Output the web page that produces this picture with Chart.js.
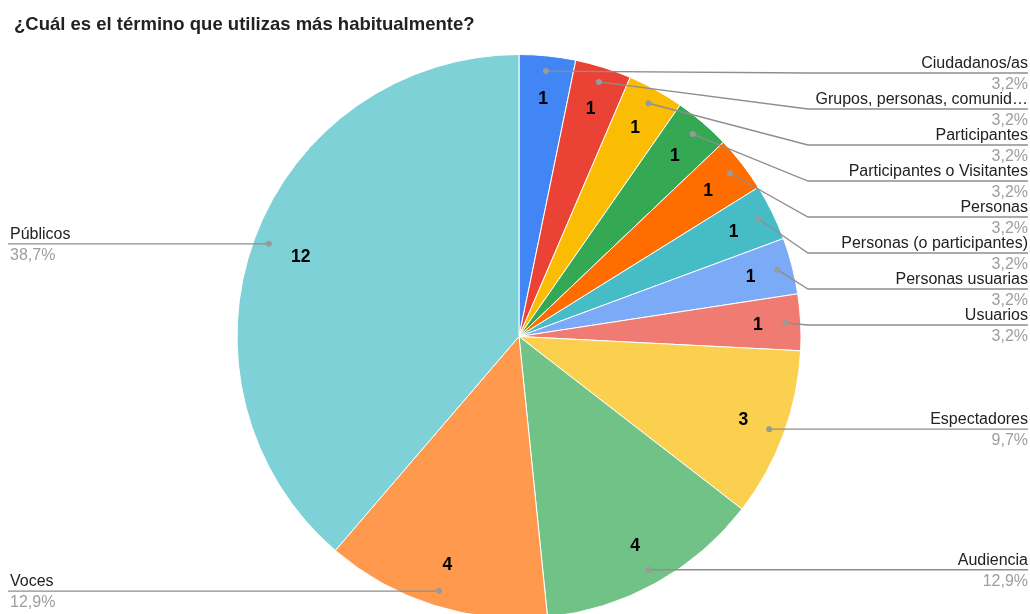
<!DOCTYPE html>
<html>
<head>
<meta charset="utf-8">
<script src="https://cdn.jsdelivr.net/npm/chart.js@4/dist/chart.umd.min.js"></script>
<style>
  html, body { margin: 0; padding: 0; background: #fff; overflow: hidden; }
  #wrap { position: relative; width: 1030px; height: 614px; overflow: hidden; }
  #box { position: absolute; left: 0; top: 0; width: 1030px; height: 640px; }
</style>
</head>
<body>
<div id="wrap"><div id="box"><canvas id="c"></canvas></div></div>
<script>
// Survey answers: "¿Cuál es el término que utilizas más habitualmente?"
const chartTitle = '¿Cuál es el término que utilizas más habitualmente?';

const categories = [
  'Ciudadanos/as',
  'Grupos, personas, comunid…',
  'Participantes',
  'Participantes o Visitantes',
  'Personas',
  'Personas (o participantes)',
  'Personas usuarias',
  'Usuarios',
  'Espectadores',
  'Audiencia',
  'Voces',
  'Públicos'
];

const counts = [1, 1, 1, 1, 1, 1, 1, 1, 3, 4, 4, 12];

const sliceColors = [
  '#4285F4', '#EA4335', '#FBBC04', '#34A853', '#FF6D01', '#46BDC6',
  '#7BAAF7', '#F07B72', '#FCD04F', '#71C287', '#FF994D', '#7ED1D7'
];

const total = counts.reduce((a, b) => a + b, 0);
const pctText = v => (v / total * 100).toFixed(1).replace('.', ',') + '%';

const FONT = '"Liberation Sans", Arial, sans-serif';

// Draws the title, the value inside each slice and the leader-line labels.
const pieLabels = {
  id: 'pieLabels',
  afterDatasetsDraw(chart) {
    const ctx = chart.ctx;
    const arcs = chart.getDatasetMeta(0).data;
    ctx.save();

    // title
    ctx.font = 'bold 18.5px ' + FONT;
    ctx.fillStyle = '#222';
    ctx.textAlign = 'left';
    ctx.textBaseline = 'alphabetic';
    ctx.fillText(chartTitle, 14, 30);

    const items = arcs.map((arc, i) => {
      const p = arc.getProps(['x', 'y', 'startAngle', 'endAngle', 'outerRadius'], true);
      const mid = (p.startAngle + p.endAngle) / 2;
      const c = Math.cos(mid), s = Math.sin(mid);
      const valR = counts[i] >= 10 ? 0.825 : 0.848;
      return {
        i, p, c, s,
        right: c >= 0,
        dotX: p.x + c * p.outerRadius * 0.946,
        dotY: p.y + s * p.outerRadius * 0.946,
        valX: p.x + c * p.outerRadius * valR,
        valY: p.y + s * p.outerRadius * valR
      };
    });

    // values inside the slices
    ctx.font = 'bold 17.5px ' + FONT;
    ctx.fillStyle = '#000';
    ctx.textAlign = 'center';
    ctx.textBaseline = 'middle';
    items.forEach(it => ctx.fillText(String(counts[it.i]), it.valX, it.valY + 1));

    // stack the label rows so they never overlap
    const gap = 36;
    let prev = -Infinity;
    items.filter(it => it.right).forEach(it => {
      it.lineY = Math.max(it.dotY, prev + gap, 73);
      prev = it.lineY;
    });
    prev = Infinity;
    items.filter(it => !it.right).sort((a, b) => b.dotY - a.dotY).forEach(it => {
      it.lineY = Math.min(it.dotY, prev - gap);
      prev = it.lineY;
    });

    items.forEach(it => {
      const R = it.p.outerRadius;
      const elbowX = it.right ? it.p.x + R + 7 : it.p.x - R - 7;
      const endX = it.right ? 1028 : 8;

      ctx.strokeStyle = '#8e8e8e';
      ctx.lineWidth = 1.3;
      ctx.beginPath();
      ctx.moveTo(it.dotX, it.dotY);
      if (Math.abs(it.lineY - it.dotY) > 1) {
        ctx.lineTo(elbowX, it.lineY);
      }
      ctx.lineTo(endX, it.lineY);
      ctx.stroke();

      ctx.fillStyle = '#9a9a9a';
      ctx.beginPath();
      ctx.arc(it.dotX, it.dotY, 3, 0, Math.PI * 2);
      ctx.fill();

      ctx.font = '16px ' + FONT;
      ctx.textBaseline = 'alphabetic';
      ctx.textAlign = it.right ? 'right' : 'left';
      const tx = it.right ? 1028 : 10;
      ctx.fillStyle = '#222';
      ctx.fillText(categories[it.i], tx, it.lineY - 5);
      ctx.fillStyle = '#9e9e9e';
      ctx.fillText(pctText(counts[it.i]), tx, it.lineY + 16);
    });

    ctx.restore();
  }
};

new Chart(document.getElementById('c'), {
  type: 'pie',
  data: {
    labels: categories,
    datasets: [{
      data: counts,
      backgroundColor: sliceColors,
      borderColor: '#ffffff',
      borderWidth: 1
    }]
  },
  options: {
    responsive: true,
    maintainAspectRatio: false,
    animation: false,
    layout: { padding: { top: 54, bottom: 21, left: 8, right: 0 } },
    plugins: {
      legend: { display: false },
      title: { display: false },
      tooltip: { enabled: true }
    }
  },
  plugins: [pieLabels]
});
</script>
</body>
</html>
